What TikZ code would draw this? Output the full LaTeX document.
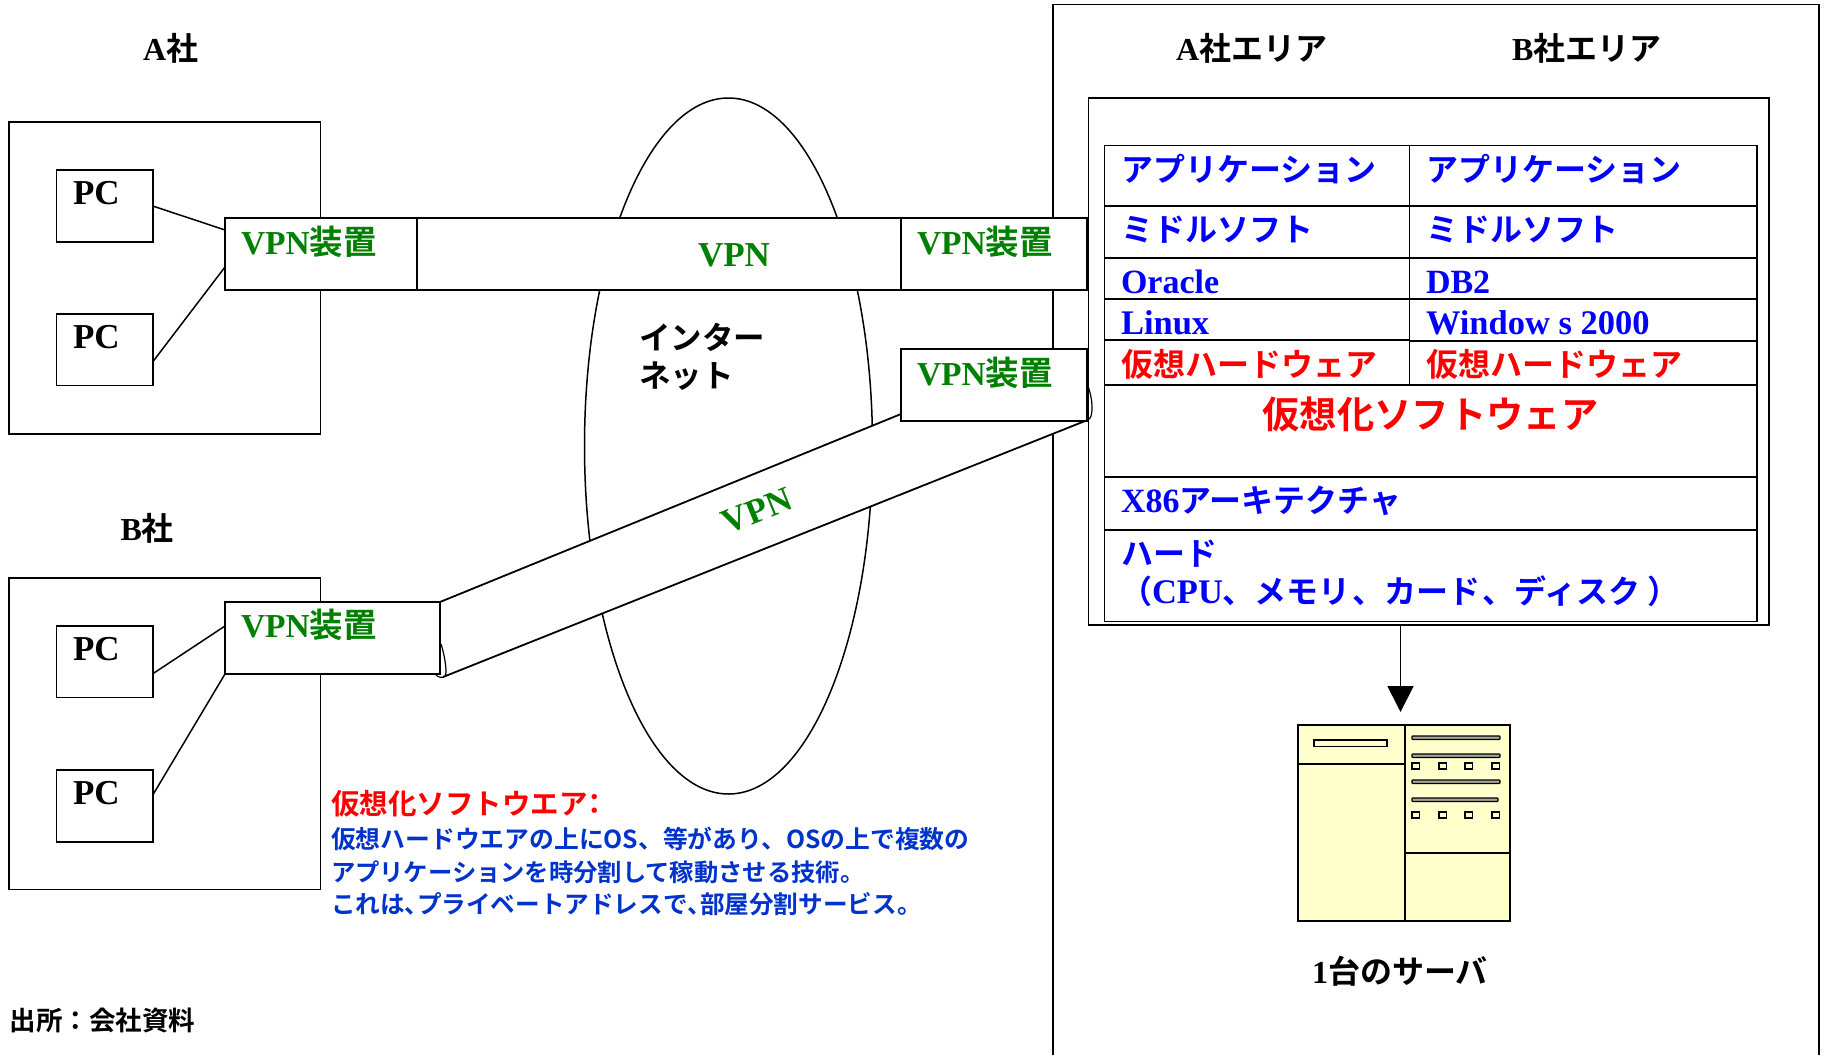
\documentclass[tikz,border=0pt]{standalone}
\usepackage{fontspec}
\usetikzlibrary{calc,arrows.meta,shapes.geometric}
\setmainfont{Liberation Serif}
\newfontfamily\cjk{Noto Sans CJK JP}[BoldFont=* Bold]
\newfontfamily\cjkp{Noto Sans CJK JP}[BoldFont=* Bold,RawFeature=+palt]
\newcommand{\J}[1]{{\cjk #1}}
\newcommand{\Jp}[1]{{\cjkp #1}}
\definecolor{vpngreen}{HTML}{008000}
\definecolor{noteblue}{HTML}{0033CC}
\definecolor{srvfill}{HTML}{FFFFCC}
\tikzset{
  x=1pt,y=-1pt,
  boxrect/.style={draw=black,line width=1.9pt,fill=white,inner sep=0pt,outer sep=0pt},
  srvrect/.style={draw=black,line width=1.8pt,fill=srvfill,inner sep=0pt,outer sep=0pt},
  txt/.style={anchor=base west,inner sep=0pt,outer sep=0pt},
  fa/.style={font=\fontsize{#1}{#1}\selectfont\bfseries},
  thin line/.style={line width=1.5pt,line cap=round},
}
\newcommand{\Rect}[6]{\node[#2,anchor=north west,minimum width={(#5-#3)*1pt},minimum height={(#6-#4)*1pt}] (#1) at (#3,#4) {};}
\newcommand{\Txt}[5]{\node[txt,#2] (#1) at (#3,#4) {#5};}
\begin{document}
\begin{tikzpicture}
\useasboundingbox (0,0) rectangle (1825,1055);
% enclosing area (runs off the page at the bottom)
\draw[line width=1.8pt] (1053,1055) -- (1053,4.5) -- (1819,4.5) -- (1819,1055);
% internet
\node[draw=black,line width=1.5pt,fill=white,ellipse,minimum width=288pt,minimum height=696pt,inner sep=0pt] (net) at (728.5,446) {};
% company boxes
\Rect{compa}{boxrect}{8.8}{122}{320.5}{434}
\Rect{compb}{boxrect}{8.8}{578}{320.5}{889.5}
\Rect{pca}{boxrect}{56.5}{170}{152.8}{242}
\Rect{pcb}{boxrect}{56.5}{314}{152.8}{385.5}
\Rect{pcc}{boxrect}{56.5}{626}{152.8}{697.5}
\Rect{pcd}{boxrect}{56.5}{770}{152.8}{842}
% VPN tunnels
\Rect{toptunnel}{boxrect}{417}{218}{901}{290}
\coordinate (dt1) at (440,602);
\coordinate (dt2) at (901,414);
\coordinate (dt3) at (1085,421);
\coordinate (dt4) at (443,677);
\fill[white] (dt1) -- (dt2) -- (dt3) -- (dt4) -- cycle;
\draw[line width=1.8pt] (dt1) -- (dt2);
\draw[line width=1.8pt] (dt4) -- (dt3);
% VPN devices
\Rect{va}{boxrect}{225}{218}{417}{290}
\Rect{vb}{boxrect}{225}{602}{440}{674}
\Rect{vc}{boxrect}{901}{218}{1087}{290}
\Rect{vd}{boxrect}{901}{349}{1087}{421}
\draw[line width=1.2pt] (441,644) .. controls (446,660) and (447,674) .. (445,676) .. controls (443,678) and (439,678) .. (436,675);
% connectors PC to device
\draw[thin line] (pca.east) -- ($(va.north west)+(0,12)$);
\draw[thin line] ($(pcb.east)+(0,12)$) -- ($(va.north west)+(0,49)$);
\draw[thin line] ($(pcc.east)+(0,12)$) -- ($(vb.north west)+(0,24)$);
\draw[thin line] ($(pcd.east)+(0,-11)$) -- (vb.south west);
% server stack
\Rect{inner}{boxrect}{1088.5}{98}{1769}{625}
\draw[line width=1.2pt] (1088,386) .. controls (1093,400) and (1093,414) .. (1090,418) .. controls (1089,420) and (1087,421) .. (1085,421);
\Rect{aa}{boxrect}{1104.5}{145.5}{1409.5}{206}
\Rect{ab}{boxrect}{1409.5}{145.5}{1757}{206}
\Rect{ba}{boxrect}{1104.5}{206}{1409.5}{258}
\Rect{bb}{boxrect}{1409.5}{206}{1757}{258}
\Rect{ca}{boxrect}{1104.5}{258}{1409.5}{299}
\Rect{cb}{boxrect}{1409.5}{258}{1757}{299}
\Rect{da}{boxrect}{1104.5}{299}{1409.5}{340}
\Rect{db}{boxrect}{1409.5}{299}{1757}{341}
\Rect{ea}{boxrect}{1104.5}{340}{1409.5}{385}
\Rect{eb}{boxrect}{1409.5}{341}{1757}{385}
\Rect{virt}{boxrect}{1104.5}{385}{1757}{477}
\Rect{xarch}{boxrect}{1104.5}{477}{1757}{530}
\Rect{hard}{boxrect}{1104.5}{530}{1757}{621.5}
% arrow to server
\coordinate (arrowend) at (1400.5,712);
\draw[line width=1.8pt,-{Triangle[length=26pt,width=26pt]}] (inner.south -| arrowend) -- (arrowend);
% server
\Rect{srv}{srvrect}{1298}{725}{1510}{921}
\draw[line width=1.8pt] (1405,725) -- (1405,921);
\draw[line width=1.5pt] (1298,764) -- (1405,764);
\draw[line width=1.5pt] (1405,853) -- (1510,853);
\Rect{slot}{srvrect}{1314}{740}{1387}{746.5}
\foreach \yy/\xe in {736/1500,754/1500,780/1500,798/1498}{
  \draw[line width=1.2pt,fill=gray!70!srvfill,rounded corners=0.8pt] (1412,\yy) rectangle (\xe,\yy+3.5);
}
\foreach \yy in {763,812}{
  \foreach \xx in {1412,1439,1465,1492}{
    \draw[line width=1.5pt,fill=srvfill] (\xx,\yy) rectangle (\xx+7.5,\yy+6);
  }
}
% labels
\Txt{ta}{fa=32}{143}{60.5}{A\J{社}}
\Txt{tb}{fa=32}{120.5}{540}{B\J{社}}
\Txt{tc}{fa=32}{1176}{60.5}{A\J{社エリア}}
\Txt{td}{fa=32}{1512}{60.5}{B\J{社エリア}}
\Txt{pa}{fa=35}{73}{204}{PC}
\Txt{pb}{fa=35}{73}{348}{PC}
\Txt{pc}{fa=35}{73}{660}{PC}
\Txt{pd}{fa=35}{73}{804}{PC}
\Txt{la}{fa=33.5,vpngreen}{241}{254}{VPN\J{装置}}
\Txt{lb}{fa=33.5,vpngreen}{241}{637}{VPN\J{装置}}
\Txt{lc}{fa=33.5,vpngreen}{917}{254}{VPN\J{装置}}
\Txt{ld}{fa=33.5,vpngreen}{917}{385}{VPN\J{装置}}
\Txt{le}{fa=35,vpngreen}{698}{266}{VPN}
\node[fa=35,vpngreen,inner sep=0pt,rotate=22] (lf) at (757,511) {VPN};
\Txt{i1}{fa=31.5}{639}{349}{\J{インター}}
\Txt{i2}{fa=31.5}{639}{387}{\J{ネット}}
\Txt{a1}{fa=32,blue}{1121}{181}{\J{アプリケーション}}
\Txt{a2}{fa=32,blue}{1426}{181}{\J{アプリケーション}}
\Txt{b1}{fa=32,blue}{1121}{241}{\J{ミドルソフト}}
\Txt{b2}{fa=32,blue}{1426}{241}{\J{ミドルソフト}}
\Txt{c1}{fa=34,blue}{1121}{293}{Oracle}
\Txt{c2}{fa=34,blue}{1426}{293}{DB2}
\Txt{d1}{fa=34.5,blue}{1121}{334}{Linux}
\Txt{d2}{fa=34.5,blue}{1426}{334}{Window s 2000}
\Txt{e1}{fa=32,red}{1121}{376}{\J{仮想ハードウェア}}
\Txt{e2}{fa=32,red}{1426}{376}{\J{仮想ハードウェア}}
\node[fa=37.3,red,anchor=base,inner sep=0pt] (f1) at (1430.5,428) {\J{仮想化ソフトウェア}};
\Txt{g1}{fa=32,blue}{1121}{512}{{\fontsize{34}{34}\selectfont X86}\J{アーキテクチャ}}
\Txt{h1}{fa=32,blue}{1121}{565}{\J{ハード}}
\Txt{h2}{fa=32,blue}{1120}{603}{\J{（}{\fontsize{34.5}{34.5}\selectfont CPU}\J{、メモリ}\hspace{2pt}\J{、カード}\hspace{2pt}\J{、ディスク}\hspace{7pt}\J{）}}
\Txt{s1}{fa=32}{1312}{983}{1\J{台のサーバ}}
\Txt{n1}{fa=28.5,red}{331}{814}{\J{仮想化ソフトウエア}\Jp{：}}
\Txt{n2}{fa=24.8,noteblue}{331}{848}{\J{仮想ハードウエアの上にOS、等があり、OSの上で複数の}}
\Txt{n3}{fa=24.3,noteblue}{331}{881}{\J{アプリケーションを時分割して稼動させる技術}\Jp{。}}
\Txt{n4}{fa=24.6,noteblue}{331}{913}{\J{これは}\Jp{、}\J{プライベートアドレスで}\Jp{、}\J{部屋分割サービス}\Jp{。}}
\Txt{src}{fa=26.5}{9.5}{1030}{\J{出所：会社資料}}
\end{tikzpicture}
\end{document}
